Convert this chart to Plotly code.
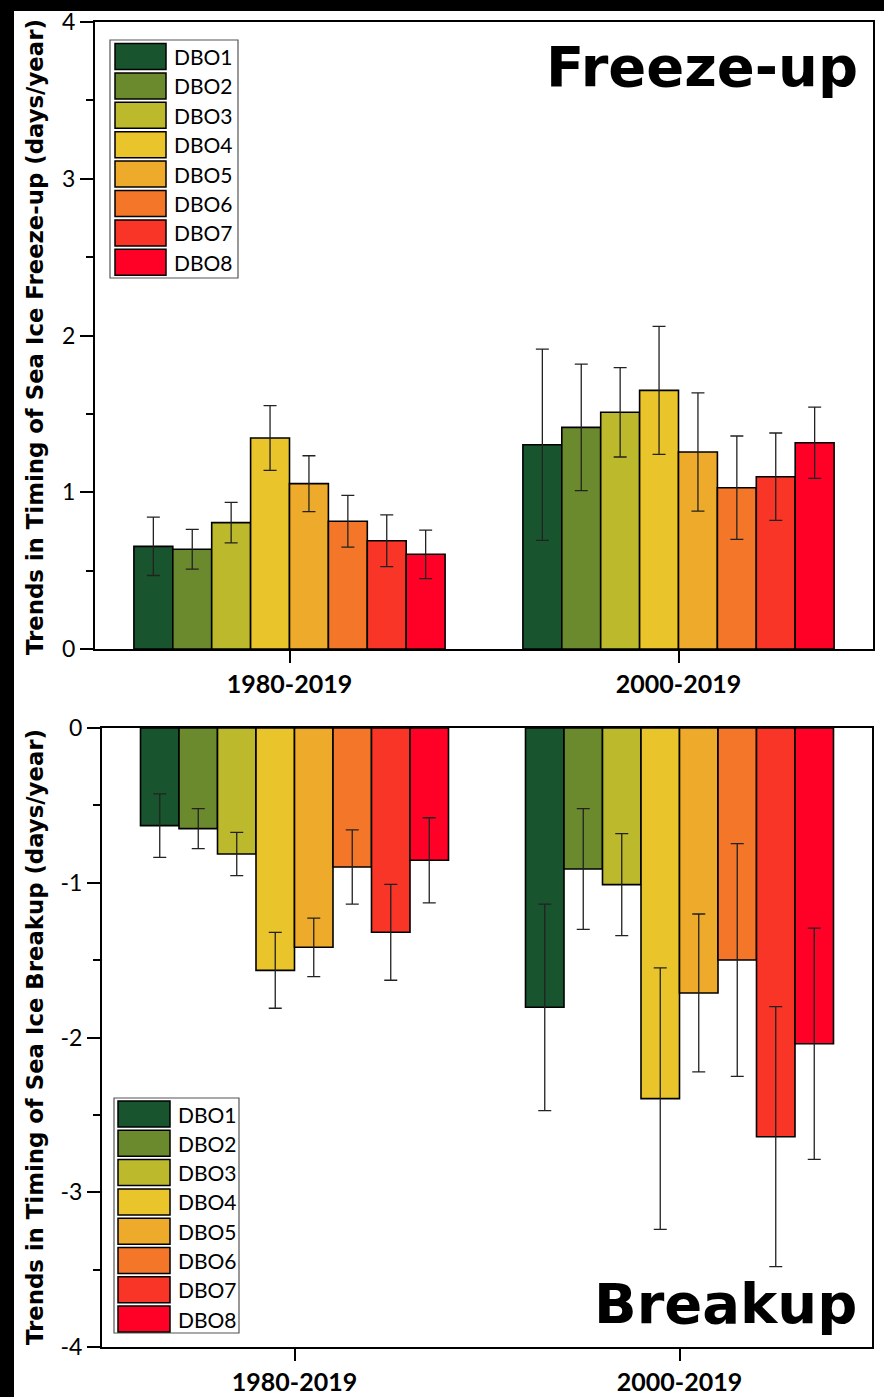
import plotly.graph_objects as go

# ---- data -------------------------------------------------------------
periods = ["1980-2019", "2000-2019"]
stations = ["DBO1", "DBO2", "DBO3", "DBO4", "DBO5", "DBO6", "DBO7", "DBO8"]
colors = ["#18552E", "#6B8A2E", "#BCBA2C", "#E9C42A",
          "#EEAA2A", "#F37629", "#F93528", "#FF0026"]

# freeze-up trends (days/year) per station: [1980-2019, 2000-2019]
freeze_dbo1 = [0.655, 1.303]
freeze_dbo2 = [0.636, 1.414]
freeze_dbo3 = [0.806, 1.510]
freeze_dbo4 = [1.346, 1.650]
freeze_dbo5 = [1.055, 1.257]
freeze_dbo6 = [0.815, 1.029]
freeze_dbo7 = [0.691, 1.099]
freeze_dbo8 = [0.604, 1.316]

freeze_err_dbo1 = [0.186, 0.610]
freeze_err_dbo2 = [0.127, 0.404]
freeze_err_dbo3 = [0.129, 0.285]
freeze_err_dbo4 = [0.207, 0.408]
freeze_err_dbo5 = [0.178, 0.377]
freeze_err_dbo6 = [0.165, 0.330]
freeze_err_dbo7 = [0.165, 0.279]
freeze_err_dbo8 = [0.155, 0.227]

# breakup trends (days/year)
breakup_dbo1 = [-0.631, -1.805]
breakup_dbo2 = [-0.650, -0.911]
breakup_dbo3 = [-0.814, -1.012]
breakup_dbo4 = [-1.566, -2.395]
breakup_dbo5 = [-1.417, -1.712]
breakup_dbo6 = [-0.898, -1.499]
breakup_dbo7 = [-1.320, -2.641]
breakup_dbo8 = [-0.855, -2.040]

breakup_err_dbo1 = [0.205, 0.667]
breakup_err_dbo2 = [0.129, 0.390]
breakup_err_dbo3 = [0.140, 0.330]
breakup_err_dbo4 = [0.245, 0.845]
breakup_err_dbo5 = [0.189, 0.510]
breakup_err_dbo6 = [0.240, 0.752]
breakup_err_dbo7 = [0.310, 0.840]
breakup_err_dbo8 = [0.275, 0.747]

freeze_tickvals = [0, 1, 2, 3, 4]
freeze_ticktext = ["0", "1", "2", "3", "4"]
breakup_tickvals = [-4, -3, -2, -1, 0]
breakup_ticktext = ["-4", "-3", "-2", "-1", "0"]

freeze_values = [freeze_dbo1, freeze_dbo2, freeze_dbo3, freeze_dbo4,
                 freeze_dbo5, freeze_dbo6, freeze_dbo7, freeze_dbo8]
freeze_errors = [freeze_err_dbo1, freeze_err_dbo2, freeze_err_dbo3, freeze_err_dbo4,
                 freeze_err_dbo5, freeze_err_dbo6, freeze_err_dbo7, freeze_err_dbo8]
breakup_values = [breakup_dbo1, breakup_dbo2, breakup_dbo3, breakup_dbo4,
                  breakup_dbo5, breakup_dbo6, breakup_dbo7, breakup_dbo8]
breakup_errors = [breakup_err_dbo1, breakup_err_dbo2, breakup_err_dbo3, breakup_err_dbo4,
                  breakup_err_dbo5, breakup_err_dbo6, breakup_err_dbo7, breakup_err_dbo8]

# ---- geometry helpers (pixel -> paper fraction) -----------------------
W, H = 884, 1397


def px(x):
    return x / W


def py(y):
    return 1 - y / H


fig = go.Figure()

for name, col, vals, errs in zip(stations, colors, freeze_values, freeze_errors):
    fig.add_trace(go.Bar(
        x=periods, y=vals, name=name, marker_color=col,
        marker_line=dict(color="black", width=1.6),
        error_y=dict(type="data", array=errs, color="#222222", thickness=1.3, width=6.5),
        xaxis="x", yaxis="y", showlegend=False, offsetgroup=name,
    ))

for name, col, vals, errs in zip(stations, colors, breakup_values, breakup_errors):
    fig.add_trace(go.Bar(
        x=periods, y=vals, name=name, marker_color=col,
        marker_line=dict(color="black", width=1.6),
        error_y=dict(type="data", array=errs, color="#222222", thickness=1.3, width=6.5),
        xaxis="x2", yaxis="y2", showlegend=False, offsetgroup=name,
    ))

tick_font = dict(family="Lato", size=23, color="black")
cat_font = dict(family="Lato", size=25, color="black", weight="bold")

common_x = dict(
    type="category", range=[-0.5, 1.5], showline=True, linecolor="black", linewidth=2,
    mirror=True, ticks="outside", ticklen=12, tickwidth=2, tickcolor="black",
    tickfont=cat_font, showgrid=False, zeroline=False, automargin=False,
)
common_y = dict(
    showline=True, linecolor="black", linewidth=2, mirror=True,
    ticks="outside", ticklen=13, tickwidth=2, tickcolor="black",
    tickfont=tick_font, showgrid=False, zeroline=False, tickmode="array",
    automargin=False,
)

fig.update_layout(
    width=W, height=H,
    margin=dict(l=0, r=0, t=0, b=0, pad=0, autoexpand=False),
    paper_bgcolor="white", plot_bgcolor="white",
    showlegend=False,
    barmode="group", bargap=0.2, bargroupgap=0,
    xaxis=dict(domain=[px(95), px(873)], anchor="y", **common_x),
    yaxis=dict(domain=[py(649), py(22)], anchor="x", range=[0, 4],
               tickvals=freeze_tickvals, ticktext=freeze_ticktext,
               minor=dict(tickmode="array", tickvals=[0.5, 1.5, 2.5, 3.5],
                          ticks="outside", ticklen=7, tickwidth=2, tickcolor="black"),
               **common_y),
    xaxis2=dict(domain=[px(102), px(872)], anchor="y2", **common_x),
    yaxis2=dict(domain=[py(1347), py(728)], anchor="x2", range=[-4, 0],
                tickvals=breakup_tickvals, ticktext=breakup_ticktext,
                minor=dict(tickmode="array", tickvals=[-3.5, -2.5, -1.5, -0.5],
                           ticks="outside", ticklen=7, tickwidth=2, tickcolor="black"),
                **common_y),
    font=dict(family="Lato", color="black"),
)

shapes = [
    # dark frame strips along the left and top edges
    dict(type="rect", xref="paper", yref="paper", x0=0, x1=px(14), y0=0, y1=1,
         fillcolor="black", line_width=0, layer="below"),
    dict(type="rect", xref="paper", yref="paper", x0=0, x1=1, y0=py(11), y1=1,
         fillcolor="black", line_width=0, layer="below"),
]
annotations = []


def add_legend(box, sw_x0, sw_x1, first_y, pitch, sw_h, text_x):
    shapes.append(dict(type="rect", xref="paper", yref="paper",
                       x0=px(box[0]), x1=px(box[2]), y0=py(box[3]), y1=py(box[1]),
                       line=dict(color="#555555", width=1.2), fillcolor="white"))
    for i, (name, col) in enumerate(zip(stations, colors)):
        top = first_y + i * pitch
        shapes.append(dict(type="rect", xref="paper", yref="paper",
                           x0=px(sw_x0), x1=px(sw_x1), y0=py(top + sw_h), y1=py(top),
                           fillcolor=col, line=dict(color="black", width=1.5)))
        annotations.append(dict(xref="paper", yref="paper", x=px(text_x),
                                y=py(top + sw_h / 2), text=name, showarrow=False,
                                xanchor="left", yanchor="middle",
                                font=dict(family="Lato", size=21, color="black")))


add_legend((110, 40, 238, 278), 115, 166, 43.5, 29.4, 26, 172)
add_legend((114, 1098, 239, 1333), 118, 170, 1101, 29.3, 26, 176)

title_font = dict(family="DejaVu Sans", size=56, color="black", weight="bold")
annotations.append(dict(xref="paper", yref="paper", x=px(860), y=py(66), text="Freeze-up",
                        showarrow=False, xanchor="right", yanchor="middle", font=title_font))
annotations.append(dict(xref="paper", yref="paper", x=px(859), y=py(1303), text="Breakup",
                        showarrow=False, xanchor="right", yanchor="middle", font=title_font))

ytitle_font = dict(family="DejaVu Sans", size=22.8, color="black", weight="bold")
annotations.append(dict(xref="paper", yref="paper", x=px(35), y=py(337),
                        text="Trends in Timing of Sea Ice Freeze-up (days/year)",
                        textangle=-90, showarrow=False, xanchor="center", yanchor="middle",
                        font=ytitle_font))
annotations.append(dict(xref="paper", yref="paper", x=px(35), y=py(1037),
                        text="Trends in Timing of Sea Ice Breakup (days/year)",
                        textangle=-90, showarrow=False, xanchor="center", yanchor="middle",
                        font=ytitle_font))

fig.update_layout(shapes=shapes, annotations=annotations)
fig.write_html("out.html")
